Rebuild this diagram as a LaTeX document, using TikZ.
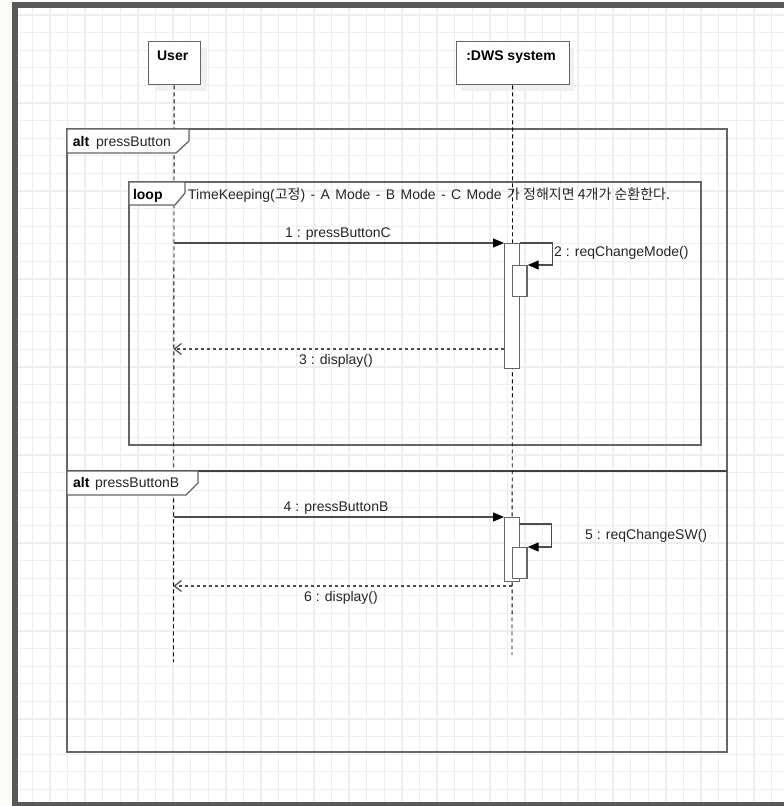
\documentclass[tikz,border=0pt]{standalone}
\usepackage{fontspec}
\setmainfont{Liberation Sans}
\newfontfamily\krfont{Noto Sans CJK KR}
\usetikzlibrary{arrows.meta}
\definecolor{framegray}{HTML}{666666}
\definecolor{gridgray}{HTML}{EEEEEE}
\definecolor{bordergray}{HTML}{595959}
\definecolor{paper}{HTML}{FCFBF7}

\begin{document}
\begin{tikzpicture}[x=1pt, y=-1pt, font=\fontsize{14}{16}\selectfont]
	\tikzstyle{gridline}=[draw=gridgray,line width=1.3pt]
	\tikzstyle{object}=[draw=framegray,fill=white,line width=1.3pt,minimum height=43pt,inner sep=0pt,anchor=north west]
	\tikzstyle{objshadow}=[fill=black!6]
	\tikzstyle{lifeline}=[black,line width=0.9pt,dash pattern=on 4pt off 3pt]
	\tikzstyle{fragment}=[draw=framegray,line width=1.5pt]
	\tikzstyle{fragtag}=[draw=framegray,fill=white,line width=1.3pt]
	\tikzstyle{activation}=[draw=framegray,fill=white,line width=1.3pt,minimum width=14.7pt,inner sep=0pt,anchor=north west]
	\tikzstyle{call}=[draw=black!70,line width=1.2pt,-{Triangle[length=11pt,width=9pt,black]}]
	\tikzstyle{reply}=[draw=black!70,line width=1.2pt,dash pattern=on 3pt off 3pt,-{Straight Barb[length=7pt,width=11pt]}]
	\tikzstyle{msg}=[text=black!85,inner sep=0pt]
	\tikzstyle{objname}=[inner sep=0pt,font=\fontsize{14}{16}\selectfont\bfseries]

	\useasboundingbox (0,0) rectangle (784,806);

	% Draw the page and the grid
	\fill[paper] (0,0) rectangle (784,806);
	\fill[bordergray] (11.7,2.3) rectangle (784,806);
	\fill[white] (17.7,8.3) rectangle (784,802.3);
	\foreach \i in {1,...,43}
	\draw[gridline] (14.7+17.6*\i,8.3) -- (14.7+17.6*\i,802.3);
	\foreach \j in {0,...,44}
	\draw[gridline] (17.7,15+17.6*\j) -- (784,15+17.6*\j);

	% Draw the combined fragments
	\draw[fragment] (67,129) rectangle (727,471);
	\draw[fragment] (67,471) rectangle (727,752);
	\draw[fragment] (129,182) rectangle (701,445);
	\draw[fragment,draw=black!75] (67,471) -- (727,471);

	% Draw the objects
	\fill[objshadow] (154.5,48) rectangle (206.5,91);
	\fill[objshadow] (461,48) rectangle (574,91);
	\node[object,minimum width=52pt] (User) at (147.5,41) {};
	\node[object,minimum width=113pt] (Sys) at (455.5,41) {};
	\node[objname,anchor=base] (User-name) at (172.7,60) {User};
	\node[objname,anchor=base] (Sys-name) at (511,60) {:DWS system};

	% Draw the lifelines
	\coordinate (User-end) at (173.5,662);
	\coordinate (Sys-end) at (512,655);
	\draw[lifeline] (User.south) -- (User-end);
	\draw[lifeline] (Sys.south) -- (Sys-end);

	% Draw the fragment tags
	\draw[fragtag] (67,129) -- (189,129) -- (189,141) -- (176,153) -- (67,153) -- cycle;
	\draw[fragtag] (129,182) -- (185,182) -- (185,193) -- (175,205) -- (129,205) -- cycle;
	\draw[fragtag] (67,471) -- (198,471) -- (198,483) -- (186,495) -- (67,495) -- cycle;
	\node[objname,anchor=base west] (alt1-op) at (72.7,146) {alt};
	\node[msg,anchor=base west] (alt1-guard) at (96,146) {pressButton};
	\node[objname,anchor=base west] (loop-op) at (132.8,199) {loop};
	% guard of the loop, split where the Korean sentence starts
	\node[msg,anchor=base west] (loop-guard) at (188,199) {\spaceskip=5.4pt\relax TimeKeeping({\krfont 고정}) - A Mode - B Mode - C Mode};
	\node[msg,anchor=base west] (loop-guard-kr) at (507,199) {\krfont 가 정해지면 4개가 순환한다.};
	\node[objname,anchor=base west] (alt2-op) at (73,487) {alt};
	\node[msg,anchor=base west] (alt2-guard) at (95,487) {pressButtonB};

	% Draw the activations
	\node[activation,minimum height=125pt] (A1) at (504,243) {};
	\node[activation,minimum height=31pt] (A1s) at (511.7,265) {};
	\node[activation,minimum height=64pt] (A2) at (504,517) {};
	\node[activation,minimum height=31pt] (A2s) at (511.7,547) {};

	% Connect the messages
	\coordinate (User-m1) at (173.5,243);
	\coordinate (Sys-m3) at (504,349);
	\coordinate (User-m3) at (173.5,349);
	\coordinate (User-m4) at (173.5,517);
	\coordinate (Sys-m5) at (518.7,524);
	\coordinate (Sys-m6) at (512,586);
	\coordinate (User-m6) at (173.5,586);
	\draw[call] (User-m1) -- (A1.north west);
	\draw[call] (A1.north east) -- ++(32.5,0) |- (A1s.north east);
	\draw[reply] (Sys-m3) -- (User-m3);
	\draw[call] (User-m4) -- (A2.north west);
	\draw[call] (Sys-m5) -- ++(33,0) |- (A2s.north east);
	\draw[reply] (Sys-m6) -- (User-m6);

	% Annotate the messages
	\node[msg,anchor=base] (m1) at (338,237) {1 : pressButtonC};
	\node[msg,anchor=base west] (m2) at (554,256) {2 : reqChangeMode()};
	\node[msg,anchor=base] (m3) at (336,364) {3 : display()};
	\node[msg,anchor=base] (m4) at (336,511) {4 : pressButtonB};
	\node[msg,anchor=base west] (m5) at (585,539) {5 : reqChangeSW()};
	\node[msg,anchor=base] (m6) at (341,601) {6 : display()};
\end{tikzpicture}
\end{document}
